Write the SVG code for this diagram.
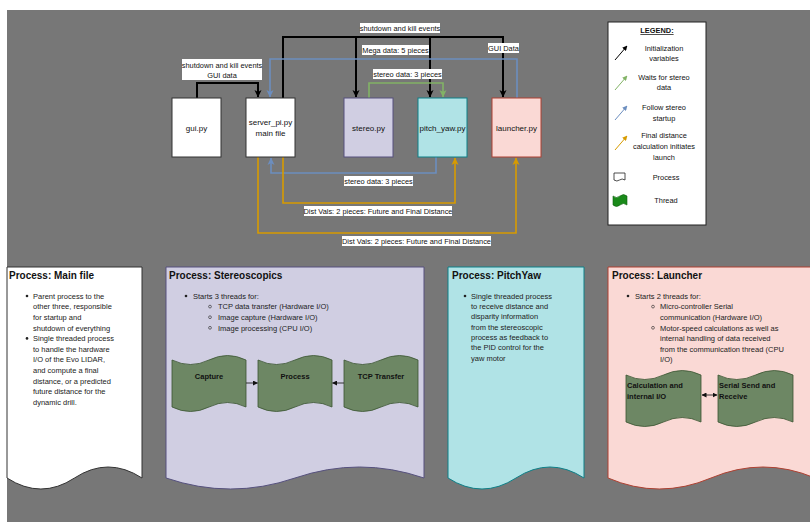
<svg xmlns="http://www.w3.org/2000/svg" width="810" height="522" viewBox="0 0 810 522">
<style>
text{font-family:"Liberation Sans",Arial,sans-serif;fill:#111}
.s{font-size:7.4px}
.n{font-size:8px;text-anchor:middle}
.c{text-anchor:middle}
.t{font-size:10px;font-weight:bold}
.b{font-size:7.5px;fill:#222}
.th{font-size:7.5px;font-weight:bold;fill:#111}
.lbl{fill:#fff}
.k{fill:none;stroke:#000;stroke-width:2}
.bl{fill:none;stroke:#6c8ebf;stroke-width:1.6}
.gr{fill:none;stroke:#82b366;stroke-width:1.6}
.or{fill:none;stroke:#d79b00;stroke-width:1.6}
.tape{fill:#6d8764;stroke:#3a5431;stroke-width:0.8}
.sm{fill:none;stroke:#222;stroke-width:0.9}
</style>
<defs>
<marker id="mk" markerUnits="userSpaceOnUse" markerWidth="8" markerHeight="8" refX="7" refY="4" orient="auto"><path d="M0,0.5 L7.5,4 L0,7.5 L2,4 Z" fill="#000"/></marker>
<marker id="mb" markerUnits="userSpaceOnUse" markerWidth="8" markerHeight="8" refX="7" refY="4" orient="auto"><path d="M0,0.5 L7.5,4 L0,7.5 L2,4 Z" fill="#6c8ebf"/></marker>
<marker id="mg" markerUnits="userSpaceOnUse" markerWidth="8" markerHeight="8" refX="7" refY="4" orient="auto"><path d="M0,0.5 L7.5,4 L0,7.5 L2,4 Z" fill="#82b366"/></marker>
<marker id="mo" markerUnits="userSpaceOnUse" markerWidth="8" markerHeight="8" refX="7" refY="4" orient="auto"><path d="M0,0.5 L7.5,4 L0,7.5 L2,4 Z" fill="#d79b00"/></marker>
<marker id="ms" markerUnits="userSpaceOnUse" markerWidth="5" markerHeight="5" refX="4.5" refY="2.5" orient="auto"><path d="M0,0 L5,2.5 L0,5 Z" fill="#111"/></marker>
<marker id="mss" markerUnits="userSpaceOnUse" markerWidth="5" markerHeight="5" refX="0.5" refY="2.5" orient="auto"><path d="M5,0 L0,2.5 L5,5 Z" fill="#111"/></marker>
<marker id="lk" markerUnits="userSpaceOnUse" markerWidth="5" markerHeight="5" refX="4.5" refY="2.5" orient="auto"><path d="M0,0 L5,2.5 L0,5 Z" fill="#000"/></marker>
<marker id="lg" markerUnits="userSpaceOnUse" markerWidth="5" markerHeight="5" refX="4.5" refY="2.5" orient="auto"><path d="M0,0 L5,2.5 L0,5 Z" fill="#82b366"/></marker>
<marker id="lb" markerUnits="userSpaceOnUse" markerWidth="5" markerHeight="5" refX="4.5" refY="2.5" orient="auto"><path d="M0,0 L5,2.5 L0,5 Z" fill="#6c8ebf"/></marker>
<marker id="lo" markerUnits="userSpaceOnUse" markerWidth="5" markerHeight="5" refX="4.5" refY="2.5" orient="auto"><path d="M0,0 L5,2.5 L0,5 Z" fill="#d79b00"/></marker>
</defs>
<rect x="0" y="0" width="810" height="522" fill="#fff"/>
<rect x="7" y="10" width="803" height="512" fill="#777"/>

<!-- connectors -->
<g id="connectors">
<path class="k" d="M197,98 V83 H258 V97" marker-end="url(#mk)"/>
<path class="k" d="M283,98 V37 H503 V97" marker-end="url(#mk)"/>
<path class="k" d="M356,37 V97" marker-end="url(#mk)"/>
<path class="k" d="M430,37 V97" marker-end="url(#mk)"/>
<path class="bl" d="M517,98 V59 H270 V97" marker-end="url(#mb)"/>
<path class="gr" d="M369,98 V83 H443 V97" marker-end="url(#mg)"/>
<path class="bl" d="M436,157 V173 H271 V158" marker-end="url(#mb)"/>
<path class="or" d="M283,157 V203 H455 V158" marker-end="url(#mo)"/>
<path class="or" d="M258,157 V233 H516 V158" marker-end="url(#mo)"/>
<rect class="lbl" x="182" y="59" width="80" height="21"/>
<text class="s c" x="222" y="67.5">shutdown and kill events</text>
<text class="s c" x="222" y="77.5">GUI data</text>
<rect class="lbl" x="360" y="23" width="80" height="10"/>
<text class="s c" x="400" y="30.7">shutdown and kill events</text>
<rect class="lbl" x="362" y="45" width="67" height="10"/>
<text class="s c" x="395.5" y="52.7">Mega data: 5 pieces</text>
<rect class="lbl" x="488" y="43" width="31" height="10"/>
<text class="s c" x="503.5" y="50.7">GUI Data</text>
<rect class="lbl" x="373" y="69" width="69" height="10"/>
<text class="s c" x="407.5" y="76.7">stereo data: 3 pieces</text>
<rect class="lbl" x="344" y="176" width="69" height="10"/>
<text class="s c" x="378.5" y="183.7">stereo data: 3 pieces</text>
<rect class="lbl" x="304" y="206" width="148" height="10"/>
<text class="s c" x="378" y="213.7">Dist Vals: 2 pieces: Future and Final Distance</text>
<rect class="lbl" x="342" y="236" width="149" height="10"/>
<text class="s c" x="416.5" y="243.7">Dist Vals: 2 pieces: Future and Final Distance</text>
</g>

<!-- nodes -->
<g id="gui">
<rect x="172" y="98" width="49" height="59" fill="#fff" stroke="#333"/>
<text class="n" x="196.5" y="130.7">gui.py</text>
</g>
<g id="server">
<rect x="246" y="98" width="49" height="59" fill="#fff" stroke="#333"/>
<text class="n" x="270.5" y="124.5">server_pi.py</text>
<text class="n" x="270.5" y="135.5">main file</text>
</g>
<g id="stereo">
<rect x="344" y="98" width="49" height="59" fill="#d0cee2" stroke="#56517e"/>
<text class="n" x="368.5" y="130.7">stereo.py</text>
</g>
<g id="pitch_yaw">
<rect x="418" y="98" width="49" height="59" fill="#b0e3e6" stroke="#0e8088"/>
<text class="n" x="442.5" y="130.7">pitch_yaw.py</text>
</g>
<g id="launcher">
<rect x="492" y="98" width="49" height="59" fill="#fad9d5" stroke="#ae4132"/>
<text class="n" x="516.5" y="130.7">launcher.py</text>
</g>

<!-- legend -->
<g id="legend">
<rect x="608" y="22" width="98" height="203" fill="#fff" stroke="#222"/>
<text class="s c" x="657" y="33" font-weight="bold" text-decoration="underline">LEGEND:</text>
<path d="M615,60 L627,46" stroke="#000" stroke-width="1" marker-end="url(#lk)"/>
<path d="M615,90 L627,76" stroke="#82b366" stroke-width="1" marker-end="url(#lg)"/>
<path d="M615,120 L627,106" stroke="#6c8ebf" stroke-width="1" marker-end="url(#lb)"/>
<path d="M615,150 L627,136" stroke="#d79b00" stroke-width="1" marker-end="url(#lo)"/>
<text class="s c" x="664" y="50.5">Initialization</text>
<text class="s c" x="664" y="60.5">variables</text>
<text class="s c" x="664" y="79.5">Waits for stereo</text>
<text class="s c" x="664" y="89.5">data</text>
<text class="s c" x="664" y="109.5">Follow stereo</text>
<text class="s c" x="664" y="120.5">startup</text>
<text class="s c" x="664" y="137.5">Final distance</text>
<text class="s c" x="664" y="148.5">calculation initiates</text>
<text class="s c" x="664" y="159.5">launch</text>
<path d="M614,173 H625 V180 Q622,178 619.5,180 Q617,182 614,180 Z" fill="#fff" stroke="#222" stroke-width="0.8"/>
<text class="s c" x="666" y="179.5">Process</text>
<path d="M613,196 Q616.5,199 620,196 Q623.5,193 627,196 V205 Q623.5,202 620,205 Q616.5,208 613,205 Z" fill="#1a8a1a" stroke="#0d5e0d" stroke-width="0.6"/>
<text class="s c" x="666" y="202.5">Thread</text>
</g>

<!-- process main file -->
<g id="proc_main">
<path d="M7,267 H142 V478 Q108,456 74.5,478 Q41,500 7,478 Z" fill="#fff" stroke="#333"/>
<text class="t" x="9" y="278.5">Process: Main file</text>
<circle cx="27" cy="296" r="1.3" fill="#222"/>
<text class="b" x="33" y="298.7">Parent process to the</text>
<text class="b" x="33" y="309.3">other three, responsible</text>
<text class="b" x="33" y="319.9">for startup and</text>
<text class="b" x="33" y="330.5">shutdown of everything</text>
<circle cx="27" cy="338.4" r="1.3" fill="#222"/>
<text class="b" x="33" y="341.1">Single threaded process</text>
<text class="b" x="33" y="351.7">to handle the hardware</text>
<text class="b" x="33" y="362.3">I/O of the Evo LIDAR,</text>
<text class="b" x="33" y="372.9">and compute a final</text>
<text class="b" x="33" y="383.5">distance, or a predicted</text>
<text class="b" x="33" y="394.1">future distance for the</text>
<text class="b" x="33" y="404.7">dynamic drill.</text>
</g>

<!-- process stereoscopics -->
<g id="proc_stereo">
<path d="M166,267 H424 V478 Q359.5,456 295,478 Q230.5,500 166,478 Z" fill="#d0cee2" stroke="#56517e"/>
<text class="t" x="169" y="278.5">Process: Stereoscopics</text>
<circle cx="186" cy="296" r="1.3" fill="#222"/>
<text class="b" x="193" y="298.7">Starts 3 threads for:</text>
<circle cx="210" cy="306.6" r="1.4" fill="none" stroke="#222" stroke-width="0.6"/>
<text class="b" x="218" y="309.3">TCP data transfer (Hardware I/O)</text>
<circle cx="210" cy="317.2" r="1.4" fill="none" stroke="#222" stroke-width="0.6"/>
<text class="b" x="218" y="319.9">Image capture (Hardware I/O)</text>
<circle cx="210" cy="327.8" r="1.4" fill="none" stroke="#222" stroke-width="0.6"/>
<text class="b" x="218" y="330.5">Image processing (CPU I/O)</text>
</g>
<g id="t_capture">
<path class="tape" d="M172,360 Q190.5,369 209,360 Q227.5,351 246,360 V407 Q227.5,398 209,407 Q190.5,416 172,407 Z"/>
<text class="th c" x="209" y="378.5">Capture</text>
</g>
<g id="t_process">
<path class="tape" d="M258,360 Q276.5,369 295,360 Q313.5,351 332,360 V407 Q313.5,398 295,407 Q276.5,416 258,407 Z"/>
<text class="th c" x="295" y="378.5">Process</text>
</g>
<g id="t_tcp">
<path class="tape" d="M344,360 Q362.5,369 381,360 Q399.5,351 418,360 V407 Q399.5,398 381,407 Q362.5,416 344,407 Z"/>
<text class="th c" x="381" y="378.5">TCP Transfer</text>
</g>

<!-- process pitchyaw -->
<g id="proc_pitch">
<path d="M448,267 H584 V478 Q550,456 516,478 Q482,500 448,478 Z" fill="#b0e3e6" stroke="#0e8088"/>
<text class="t" x="452" y="278.5">Process: PitchYaw</text>
<circle cx="465" cy="296" r="1.3" fill="#222"/>
<text class="b" x="471" y="298.7">Single threaded process</text>
<text class="b" x="471" y="309">to receive distance and</text>
<text class="b" x="471" y="319.3">disparity information</text>
<text class="b" x="471" y="329.6">from the stereoscopic</text>
<text class="b" x="471" y="339.9">process as feedback to</text>
<text class="b" x="471" y="350.2">the PID control for the</text>
<text class="b" x="471" y="360.5">yaw motor</text>
</g>

<!-- process launcher -->
<g id="proc_launcher">
<path d="M608,267 H815 V478 Q763,456 711,478 Q659,500 608,478 Z" fill="#fad9d5" stroke="#ae4132"/>
<text class="t" x="612" y="278.5">Process: Launcher</text>
<circle cx="628" cy="296" r="1.3" fill="#222"/>
<text class="b" x="635" y="298.7">Starts 2 threads for:</text>
<circle cx="653" cy="306.6" r="1.4" fill="none" stroke="#222" stroke-width="0.6"/>
<text class="b" x="660" y="309.3">Micro-controller Serial</text>
<text class="b" x="660" y="319.9">communication (Hardware I/O)</text>
<circle cx="653" cy="327.8" r="1.4" fill="none" stroke="#222" stroke-width="0.6"/>
<text class="b" x="660" y="330.5">Motor-speed calculations as well as</text>
<text class="b" x="660" y="341.1">internal handling of data received</text>
<text class="b" x="660" y="351.7">from the communication thread (CPU</text>
<text class="b" x="660" y="362.3">I/O)</text>
</g>
<g id="t_calc">
<path class="tape" d="M626,375 Q644.75,384 663.5,375 Q682.25,366 701,375 V422 Q682.25,413 663.5,422 Q644.75,431 626,422 Z"/>
<text class="th" x="627" y="388">Calculation and</text>
<text class="th" x="627" y="398.5">internal I/O</text>
</g>
<g id="t_serial">
<path class="tape" d="M718,375 Q736.75,384 755.5,375 Q774.25,366 793,375 V422 Q774.25,413 755.5,422 Q736.75,431 718,422 Z"/>
<text class="th" x="719" y="388">Serial Send and</text>
<text class="th" x="719" y="398.5">Receive</text>
</g>

<g id="thread_connectors">
<path class="sm" d="M246,383 H257.5" marker-end="url(#ms)"/>
<path class="sm" d="M344,383 H332.5" marker-end="url(#ms)"/>
<path class="sm" d="M702,395 H717" marker-start="url(#mss)" marker-end="url(#ms)"/>
</g>
</svg>
